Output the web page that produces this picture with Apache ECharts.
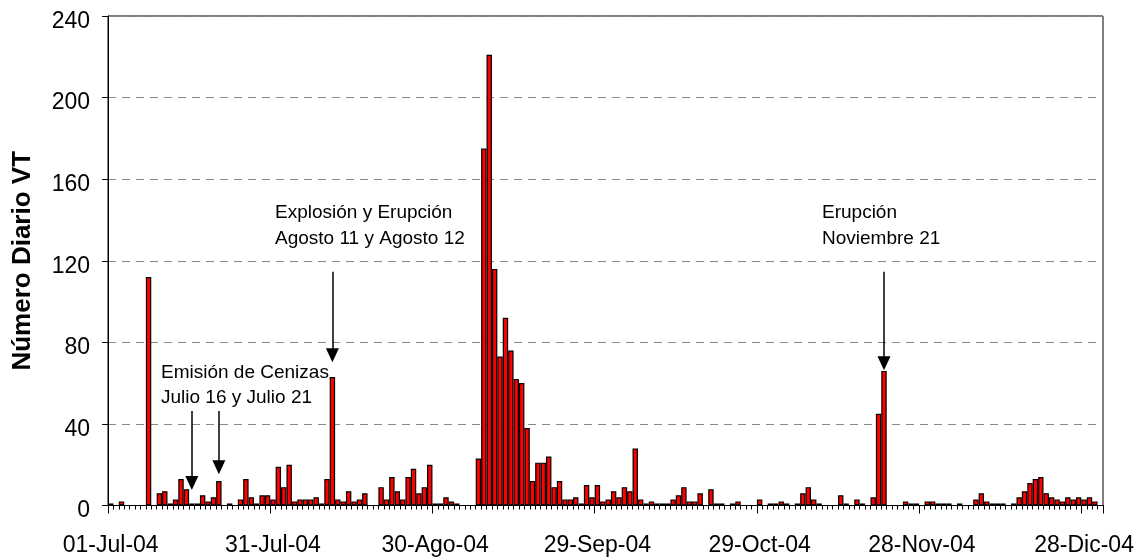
<!DOCTYPE html>
<html>
<head>
<meta charset="utf-8">
<script src="https://cdn.jsdelivr.net/npm/echarts@6/dist/echarts.min.js"></script>
<style>
  html, body { margin: 0; padding: 0; background: #fff; }
  #chart { width: 1142px; height: 559px; }
</style>
</head>
<body>
<div id="chart"></div>
<script>
// conteo diario de eventos VT (2004), un arreglo por mes
const julio = [1, 0, 2, 0, 0, 0, 0, 112, 0, 6, 7, 1, 3, 13, 8, 1, 1, 5, 2, 4, 12, 0, 1, 0, 3, 13, 4, 1, 5, 5, 3]
const agosto = [19, 9, 20, 2, 3, 3, 3, 4, 1, 13, 63, 3, 2, 7, 2, 3, 6, 0, 0, 9, 3, 14, 7, 3, 14, 18, 6, 9, 20, 1, 1]
const septiembre = [4, 2, 1, 0, 0, 0, 23, 175, 221, 116, 73, 92, 76, 62, 60, 38, 12, 21, 21, 24, 9, 12, 3, 3, 4, 1, 10, 4, 10, 2]
const octubre = [3, 7, 4, 9, 7, 28, 3, 1, 2, 1, 1, 1, 3, 5, 9, 2, 2, 6, 0, 8, 1, 1, 0, 1, 2, 0, 0, 0, 3, 0, 1]
const noviembre = [1, 2, 1, 0, 1, 6, 9, 3, 1, 0, 0, 0, 5, 1, 0, 3, 1, 0, 4, 45, 66, 0, 0, 0, 2, 1, 1, 0, 2, 2]
const diciembre = [1, 1, 1, 0, 1, 0, 0, 3, 6, 2, 1, 1, 1, 0, 1, 4, 7, 11, 13, 14, 6, 4, 3, 2, 4, 3, 4, 3, 4, 2, 0]

const meses = ['Jul', 'Ago', 'Sep', 'Oct', 'Nov', 'Dic']
const conteosPorMes = [julio, agosto, septiembre, octubre, noviembre, diciembre]

// categorías: una por día, formato DD-Mes-04
const dias = []
const valores = []
conteosPorMes.forEach((mes, m) => {
  mes.forEach((v, d) => {
    dias.push(String(d + 1).padStart(2, '0') + '-' + meses[m] + '-04')
    valores.push(v)
  })
})

const FONT = '"Liberation Sans", Arial, sans-serif'

const chart = echarts.init(document.getElementById('chart'))

const flecha = (dia, desde, hasta) => [
  { coord: [dia, desde] },
  { coord: [dia, hasta] }
]

chart.setOption({
  animation: false,
  backgroundColor: '#fff',
  grid: {
    left: 108,
    right: 39,
    top: 16,
    bottom: 53.5,
    show: true,
    borderColor: '#000',
    borderWidth: 1
  },
  xAxis: [
    {
      type: 'category',
      data: dias,
      boundaryGap: true,
      axisLine: { lineStyle: { color: '#000', width: 1 } },
      axisTick: { show: true, interval: 0, length: 4, lineStyle: { color: '#000' } },
      axisLabel: {
        interval: 29,
        color: '#000',
        fontSize: 23,
        fontFamily: FONT,
        margin: 29
      },
      splitLine: { show: false }
    },
    {
      // marcas largas en las fechas etiquetadas
      type: 'category',
      data: dias,
      position: 'bottom',
      boundaryGap: true,
      axisLine: { show: false },
      axisTick: { show: true, interval: 29, length: 8, lineStyle: { color: '#000' } },
      axisLabel: { show: false },
      splitLine: { show: false }
    }
  ],
  yAxis: {
    type: 'value',
    min: 0,
    max: 240,
    interval: 40,
    name: 'Número Diario VT',
    nameLocation: 'middle',
    nameGap: 72,
    nameTextStyle: {
      color: '#000',
      fontSize: 26,
      fontWeight: 'bold',
      fontFamily: FONT
    },
    axisLine: { show: true, lineStyle: { color: '#000', width: 1 } },
    axisTick: { show: true, length: 6, lineStyle: { color: '#000' } },
    axisLabel: {
      color: '#000',
      fontSize: 23,
      fontFamily: FONT,
      margin: 18,
      verticalAlign: 'top',
      lineHeight: 11
    },
    splitLine: {
      show: true,
      lineStyle: { color: '#888', type: [8, 6], width: 1 }
    }
  },
  series: [
    {
      type: 'bar',
      data: valores,
      barCategoryGap: '0%',
      itemStyle: {
        color: '#ff0000',
        borderColor: '#000',
        borderWidth: 1.2
      },
      markLine: {
        silent: true,
        symbol: ['none', 'triangle'],
        symbolSize: [13, 14],
        label: { show: false },
        lineStyle: { color: '#000', width: 1.5, type: 'solid' },
        data: [
          flecha('16-Jul-04', 46.3, 11),
          flecha('21-Jul-04', 46.3, 18.8),
          flecha('11-Ago-04', 114.6, 73.7),
          flecha('21-Nov-04', 114.6, 69.8)
        ]
      }
    }
  ],
  graphic: [
    {
      type: 'text',
      left: 161,
      top: 360,
      style: {
        text: 'Emisión de Cenizas\nJulio 16 y Julio 21',
        font: '19px ' + FONT,
        lineHeight: 25.5,
        fill: '#000'
      }
    },
    {
      type: 'text',
      left: 275,
      top: 200,
      style: {
        text: 'Explosión y Erupción\nAgosto 11 y Agosto 12',
        font: '19px ' + FONT,
        lineHeight: 26,
        fill: '#000'
      }
    },
    {
      type: 'text',
      left: 822,
      top: 200,
      style: {
        text: 'Erupción\nNoviembre 21',
        font: '19px ' + FONT,
        lineHeight: 26,
        fill: '#000'
      }
    }
  ]
})

window.addEventListener('resize', () => chart.resize())
</script>
</body>
</html>
